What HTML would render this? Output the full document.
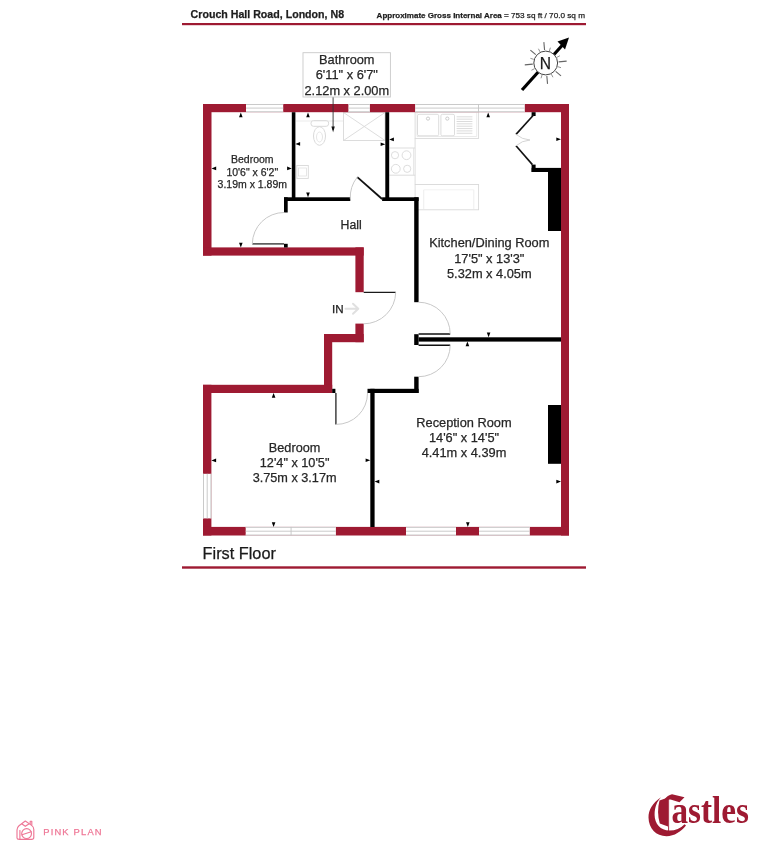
<!DOCTYPE html>
<html><head><meta charset="utf-8"><style>
html,body{margin:0;padding:0;background:#fff;width:768px;height:856px;overflow:hidden}
svg{display:block;font-family:"Liberation Sans",sans-serif;will-change:transform}
</style></head><body>
<svg width="768" height="856" viewBox="0 0 768 856">
<text x="190.6" y="18.3" font-size="10.6" text-anchor="start" font-weight="bold" fill="#1e1e1e" stroke="#1e1e1e" stroke-width="0.25" textLength="153.5" lengthAdjust="spacingAndGlyphs">Crouch Hall Road, London, N8</text>
<text x="376.6" y="18.2" font-size="8" text-anchor="start" font-weight="bold" fill="#1e1e1e" stroke="#1e1e1e" stroke-width="0.25" textLength="125.2" lengthAdjust="spacingAndGlyphs">Approximate Gross Internal Area</text>
<text x="503.9" y="18.2" font-size="8" text-anchor="start" font-weight="normal" fill="#1e1e1e" stroke="#1e1e1e" stroke-width="0.25" textLength="81.1" lengthAdjust="spacingAndGlyphs">= 753 sq ft / 70.0 sq m</text>
<rect x="182" y="23" width="404" height="2.2" fill="#9e1a32"/>
<rect x="311" y="120.5" width="17.6" height="5.8" rx="2.5" fill="none" stroke="#d9d9d9" stroke-width="1"/>
<ellipse cx="319.5" cy="136" rx="6" ry="9.3" fill="none" stroke="#d9d9d9" stroke-width="1"/>
<ellipse cx="319.5" cy="137" rx="3" ry="5" fill="none" stroke="#dedede" stroke-width="0.8"/>
<rect x="343.5" y="112.5" width="41.5" height="28.0" fill="none" stroke="#d9d9d9" stroke-width="0.9"/>
<line x1="343.5" y1="112.5" x2="385" y2="140.5" stroke="#d9d9d9" stroke-width="0.9"/>
<line x1="385" y1="112.5" x2="343.5" y2="140.5" stroke="#d9d9d9" stroke-width="0.9"/>
<line x1="296" y1="121" x2="343" y2="121" stroke="#e6e6e6" stroke-width="0.8"/>
<rect x="296.8" y="165.5" width="11.5" height="12.9" fill="none" stroke="#d9d9d9" stroke-width="0.9"/>
<rect x="298.5" y="168" width="8.0" height="8" fill="none" stroke="#dcdcdc" stroke-width="0.7"/>
<rect x="415.1" y="112.2" width="63.5" height="26.2" fill="none" stroke="#d9d9d9" stroke-width="0.9"/>
<line x1="417" y1="112.2" x2="417" y2="136.5" stroke="#e2e2e2" stroke-width="0.7"/>
<line x1="476.7" y1="112.2" x2="476.7" y2="136.5" stroke="#e2e2e2" stroke-width="0.7"/>
<line x1="417" y1="136.5" x2="476.7" y2="136.5" stroke="#e2e2e2" stroke-width="0.7"/>
<rect x="417.5" y="114.3" width="21.2" height="21.5" rx="1.5" fill="none" stroke="#d9d9d9" stroke-width="0.9"/>
<rect x="440.9" y="114.3" width="13.6" height="21.5" rx="1.5" fill="none" stroke="#d9d9d9" stroke-width="0.9"/>
<line x1="456.6" y1="116.8" x2="472.4" y2="116.8" stroke="#d2d2d2" stroke-width="0.8"/>
<line x1="456.6" y1="119.14999999999999" x2="472.4" y2="119.14999999999999" stroke="#d2d2d2" stroke-width="0.8"/>
<line x1="456.6" y1="121.5" x2="472.4" y2="121.5" stroke="#d2d2d2" stroke-width="0.8"/>
<line x1="456.6" y1="123.85" x2="472.4" y2="123.85" stroke="#d2d2d2" stroke-width="0.8"/>
<line x1="456.6" y1="126.2" x2="472.4" y2="126.2" stroke="#d2d2d2" stroke-width="0.8"/>
<line x1="456.6" y1="128.55" x2="472.4" y2="128.55" stroke="#d2d2d2" stroke-width="0.8"/>
<line x1="456.6" y1="130.9" x2="472.4" y2="130.9" stroke="#d2d2d2" stroke-width="0.8"/>
<line x1="456.6" y1="133.25" x2="472.4" y2="133.25" stroke="#d2d2d2" stroke-width="0.8"/>
<circle cx="428" cy="118.6" r="1.6" fill="none" stroke="#c0c0c0" stroke-width="0.8"/>
<circle cx="447.3" cy="118.6" r="1.6" fill="none" stroke="#c0c0c0" stroke-width="0.8"/>
<line x1="415.1" y1="138.4" x2="415.1" y2="184.5" stroke="#d9d9d9" stroke-width="0.9"/>
<line x1="389.3" y1="148" x2="415.1" y2="148" stroke="#d9d9d9" stroke-width="0.9"/>
<line x1="389.3" y1="175.2" x2="415.1" y2="175.2" stroke="#d9d9d9" stroke-width="0.9"/>
<line x1="413.5" y1="148" x2="413.5" y2="175.2" stroke="#e0e0e0" stroke-width="0.7"/>
<circle cx="395" cy="155.2" r="3.6" fill="none" stroke="#d9d9d9" stroke-width="0.9"/>
<circle cx="406.5" cy="155.2" r="4.4" fill="none" stroke="#d9d9d9" stroke-width="0.9"/>
<circle cx="395.8" cy="168.8" r="4.4" fill="none" stroke="#d9d9d9" stroke-width="0.9"/>
<circle cx="407.2" cy="168.8" r="3.6" fill="none" stroke="#d9d9d9" stroke-width="0.9"/>
<rect x="415.1" y="184.5" width="63.5" height="25.3" fill="none" stroke="#d9d9d9" stroke-width="0.9"/>
<line x1="423.7" y1="189.8" x2="423.7" y2="209.8" stroke="#e6e6e6" stroke-width="0.7"/>
<line x1="473.8" y1="189.8" x2="473.8" y2="209.8" stroke="#e6e6e6" stroke-width="0.7"/>
<line x1="423.7" y1="189.8" x2="473.8" y2="189.8" stroke="#ececec" stroke-width="0.7"/>
<rect x="203" y="104" width="366" height="8.2" fill="#9e1a32"/>
<rect x="561" y="104" width="8" height="431.5" fill="#9e1a32"/>
<rect x="203" y="104" width="8.5" height="151.6" fill="#9e1a32"/>
<rect x="203" y="247.4" width="160.7" height="8.2" fill="#9e1a32"/>
<rect x="355.4" y="247.4" width="8.3" height="44.8" fill="#9e1a32"/>
<rect x="355.4" y="323.6" width="8.3" height="18.6" fill="#9e1a32"/>
<rect x="324" y="334" width="39.7" height="8.2" fill="#9e1a32"/>
<rect x="324" y="334" width="8.2" height="59" fill="#9e1a32"/>
<rect x="203" y="384.8" width="129.2" height="8.2" fill="#9e1a32"/>
<rect x="203" y="384.8" width="8.4" height="150.7" fill="#9e1a32"/>
<rect x="203" y="526.9" width="366" height="8.6" fill="#9e1a32"/>
<rect x="246" y="104" width="37.2" height="8.2" fill="#fff"/>
<line x1="246" y1="104.5" x2="283.2" y2="104.5" stroke="#c4c4c4" stroke-width="0.9"/>
<line x1="246" y1="108.1" x2="283.2" y2="108.1" stroke="#c4c4c4" stroke-width="0.9"/>
<line x1="246" y1="111.7" x2="283.2" y2="111.7" stroke="#c4c4c4" stroke-width="0.9"/>
<rect x="348.4" y="104" width="21.5" height="8.2" fill="#fff"/>
<line x1="348.4" y1="104.5" x2="369.9" y2="104.5" stroke="#c4c4c4" stroke-width="0.9"/>
<line x1="348.4" y1="108.1" x2="369.9" y2="108.1" stroke="#c4c4c4" stroke-width="0.9"/>
<line x1="348.4" y1="111.7" x2="369.9" y2="111.7" stroke="#c4c4c4" stroke-width="0.9"/>
<rect x="415.1" y="104" width="109.7" height="8.2" fill="#fff"/>
<line x1="415.1" y1="104.5" x2="524.8" y2="104.5" stroke="#c4c4c4" stroke-width="0.9"/>
<line x1="415.1" y1="108.1" x2="524.8" y2="108.1" stroke="#c4c4c4" stroke-width="0.9"/>
<line x1="415.1" y1="111.7" x2="524.8" y2="111.7" stroke="#c4c4c4" stroke-width="0.9"/>
<line x1="478.5" y1="104" x2="478.5" y2="112.2" stroke="#c4c4c4" stroke-width="0.9"/>
<rect x="245.7" y="526.9" width="90.2" height="8.6" fill="#fff"/>
<line x1="245.7" y1="527.4" x2="335.9" y2="527.4" stroke="#c4c4c4" stroke-width="0.9"/>
<line x1="245.7" y1="531.2" x2="335.9" y2="531.2" stroke="#c4c4c4" stroke-width="0.9"/>
<line x1="245.7" y1="535.0" x2="335.9" y2="535.0" stroke="#c4c4c4" stroke-width="0.9"/>
<line x1="291.1" y1="526.9" x2="291.1" y2="535.5" stroke="#c4c4c4" stroke-width="0.9"/>
<rect x="406" y="526.9" width="50" height="8.6" fill="#fff"/>
<line x1="406" y1="527.4" x2="456" y2="527.4" stroke="#c4c4c4" stroke-width="0.9"/>
<line x1="406" y1="531.2" x2="456" y2="531.2" stroke="#c4c4c4" stroke-width="0.9"/>
<line x1="406" y1="535.0" x2="456" y2="535.0" stroke="#c4c4c4" stroke-width="0.9"/>
<rect x="479" y="526.9" width="50.8" height="8.6" fill="#fff"/>
<line x1="479" y1="527.4" x2="529.8" y2="527.4" stroke="#c4c4c4" stroke-width="0.9"/>
<line x1="479" y1="531.2" x2="529.8" y2="531.2" stroke="#c4c4c4" stroke-width="0.9"/>
<line x1="479" y1="535.0" x2="529.8" y2="535.0" stroke="#c4c4c4" stroke-width="0.9"/>
<rect x="203" y="473.8" width="8.4" height="44.6" fill="#fff"/>
<line x1="203.5" y1="473.8" x2="203.5" y2="518.4" stroke="#c4c4c4" stroke-width="0.9"/>
<line x1="207.2" y1="473.8" x2="207.2" y2="518.4" stroke="#c4c4c4" stroke-width="0.9"/>
<line x1="210.9" y1="473.8" x2="210.9" y2="518.4" stroke="#c4c4c4" stroke-width="0.9"/>
<rect x="291.8" y="112.2" width="3.6" height="88.8" fill="#000"/>
<rect x="385.3" y="112.2" width="3.9" height="88.8" fill="#000"/>
<rect x="284" y="197.3" width="66.3" height="3.7" fill="#000"/>
<rect x="284" y="197.3" width="3.7" height="15.2" fill="#000"/>
<rect x="382.1" y="197.3" width="36.5" height="3.7" fill="#000"/>
<rect x="414.2" y="197.3" width="4.4" height="104.9" fill="#000"/>
<rect x="414.2" y="334.2" width="4.4" height="10.8" fill="#000"/>
<rect x="418.6" y="337.3" width="142.4" height="4.3" fill="#000"/>
<rect x="414.2" y="376.7" width="4.4" height="16.3" fill="#000"/>
<rect x="367.5" y="388.8" width="51.1" height="4.2" fill="#000"/>
<rect x="370.3" y="388.8" width="4.3" height="138.2" fill="#000"/>
<rect x="332.2" y="388.8" width="3.2" height="4.2" fill="#000"/>
<rect x="284" y="243.8" width="3.7" height="3.7" fill="#000"/>
<rect x="548" y="167.9" width="13" height="63.1" fill="#000"/>
<rect x="531.6" y="167.9" width="16.4" height="4.1" fill="#000"/>
<rect x="531.6" y="164.6" width="4.0" height="7.4" fill="#000"/>
<rect x="531.6" y="112.2" width="4.0" height="3.8" fill="#000"/>
<rect x="548" y="405" width="13" height="58.8" fill="#000"/>
<line x1="252.3" y1="243.9" x2="284" y2="243.9" stroke="#2a2a2a" stroke-width="1.3"/>
<path d="M252.3 243.9 A31.8 31.8 0 0 1 284.3 212.5" fill="none" stroke="#c8c8c8" stroke-width="1"/>
<line x1="357.3" y1="177.1" x2="382.1" y2="199" stroke="#111" stroke-width="1.8"/>
<path d="M350.3 199 A32.5 32.5 0 0 1 357.3 177.1" fill="none" stroke="#c8c8c8" stroke-width="1"/>
<line x1="363.7" y1="292.4" x2="395.7" y2="292.4" stroke="#1a1a1a" stroke-width="1.4"/>
<path d="M395.7 292.4 A32 32 0 0 1 363.7 323.8" fill="none" stroke="#c8c8c8" stroke-width="1"/>
<line x1="418.6" y1="333.9" x2="450.2" y2="333.9" stroke="#111" stroke-width="1.5"/>
<line x1="418.6" y1="345.2" x2="450.2" y2="345.2" stroke="#111" stroke-width="1.5"/>
<path d="M418.6 302.2 A31.7 31.7 0 0 1 450.2 333.9" fill="none" stroke="#c8c8c8" stroke-width="1"/>
<path d="M450.2 345.2 A31.5 31.5 0 0 1 418.6 376.7" fill="none" stroke="#c8c8c8" stroke-width="1"/>
<line x1="335.9" y1="393" x2="335.9" y2="424.4" stroke="#333" stroke-width="1.4"/>
<path d="M335.9 424.4 A31.2 31.2 0 0 0 367.5 393" fill="none" stroke="#c8c8c8" stroke-width="1"/>
<line x1="534" y1="114.5" x2="516" y2="134.4" stroke="#111" stroke-width="1.6"/>
<line x1="516" y1="145.8" x2="532.4" y2="164.6" stroke="#111" stroke-width="1.6"/>
<path d="M516 134.4 Q522 139.5 530 140 Q522 140.5 516 145.8" fill="none" stroke="#cfcfcf" stroke-width="0.9"/>
<text x="337.8" y="313.2" font-size="11.6" text-anchor="middle" font-weight="normal" fill="#222" stroke="#222" stroke-width="0.25" >IN</text>
<path d="M345.5 308.8 H357.5 M353 303.8 L358.3 308.8 L353 313.8" fill="none" stroke="#e0e0e0" stroke-width="2" stroke-linecap="round" stroke-linejoin="round"/>
<polygon points="240.80,112.50 239.00,117.20 242.60,117.20" fill="#000"/>
<polygon points="211.50,168.40 216.20,166.60 216.20,170.20" fill="#000"/>
<polygon points="291.80,168.40 287.10,166.60 287.10,170.20" fill="#000"/>
<polygon points="240.80,247.40 239.00,242.70 242.60,242.70" fill="#000"/>
<polygon points="308.00,112.50 306.20,117.20 309.80,117.20" fill="#000"/>
<polygon points="295.40,143.90 300.10,142.10 300.10,145.70" fill="#000"/>
<polygon points="385.30,144.20 380.60,142.40 380.60,146.00" fill="#000"/>
<polygon points="308.00,197.30 306.20,192.60 309.80,192.60" fill="#000"/>
<polygon points="488.20,112.50 486.40,117.20 490.00,117.20" fill="#000"/>
<polygon points="389.20,139.40 393.90,137.60 393.90,141.20" fill="#000"/>
<polygon points="561.00,139.30 556.30,137.50 556.30,141.10" fill="#000"/>
<polygon points="488.60,337.30 486.80,332.60 490.40,332.60" fill="#000"/>
<polygon points="467.40,341.60 465.60,346.30 469.20,346.30" fill="#000"/>
<polygon points="374.60,481.60 379.30,479.80 379.30,483.40" fill="#000"/>
<polygon points="561.00,481.60 556.30,479.80 556.30,483.40" fill="#000"/>
<polygon points="467.80,526.90 466.00,522.20 469.60,522.20" fill="#000"/>
<polygon points="273.60,393.00 271.80,397.70 275.40,397.70" fill="#000"/>
<polygon points="211.40,460.40 216.10,458.60 216.10,462.20" fill="#000"/>
<polygon points="370.30,460.30 365.60,458.50 365.60,462.10" fill="#000"/>
<polygon points="273.60,526.90 271.80,522.20 275.40,522.20" fill="#000"/>
<line x1="333.1" y1="97" x2="333.1" y2="130" stroke="#333" stroke-width="0.9"/>
<polygon points="331.4,126.5 334.8,126.5 333.1,132.3" fill="#111"/>
<rect x="303" y="52.7" width="87.4" height="44.3" fill="#fff" stroke="#c9c9c9" stroke-width="0.9"/>
<text x="346.8" y="63.9" font-size="12.8" text-anchor="middle" font-weight="normal" fill="#262626" stroke="#262626" stroke-width="0.25" >Bathroom</text>
<text x="346.8" y="79.2" font-size="12.8" text-anchor="middle" font-weight="normal" fill="#262626" stroke="#262626" stroke-width="0.25" >6'11&quot; x 6'7&quot;</text>
<text x="346.8" y="94.5" font-size="12.8" text-anchor="middle" font-weight="normal" fill="#262626" stroke="#262626" stroke-width="0.25" >2.12m x 2.00m</text>
<text x="252.3" y="163.2" font-size="10.5" text-anchor="middle" font-weight="normal" fill="#262626" stroke="#262626" stroke-width="0.25" >Bedroom</text>
<text x="252.3" y="176" font-size="10.5" text-anchor="middle" font-weight="normal" fill="#262626" stroke="#262626" stroke-width="0.25" >10'6&quot; x 6'2&quot;</text>
<text x="252.3" y="188.1" font-size="10.5" text-anchor="middle" font-weight="normal" fill="#262626" stroke="#262626" stroke-width="0.25" >3.19m x 1.89m</text>
<text x="351.1" y="228.9" font-size="12.3" text-anchor="middle" font-weight="normal" fill="#262626" stroke="#262626" stroke-width="0.25" >Hall</text>
<text x="489.3" y="247.3" font-size="12.8" text-anchor="middle" font-weight="normal" fill="#262626" stroke="#262626" stroke-width="0.25" >Kitchen/Dining Room</text>
<text x="489.3" y="262.8" font-size="12.8" text-anchor="middle" font-weight="normal" fill="#262626" stroke="#262626" stroke-width="0.25" >17'5&quot; x 13'3&quot;</text>
<text x="489.3" y="277.8" font-size="12.8" text-anchor="middle" font-weight="normal" fill="#262626" stroke="#262626" stroke-width="0.25" >5.32m x 4.05m</text>
<text x="294.6" y="451.8" font-size="12.7" text-anchor="middle" font-weight="normal" fill="#262626" stroke="#262626" stroke-width="0.25" >Bedroom</text>
<text x="294.6" y="467" font-size="12.7" text-anchor="middle" font-weight="normal" fill="#262626" stroke="#262626" stroke-width="0.25" >12'4&quot; x 10'5&quot;</text>
<text x="294.6" y="482.3" font-size="12.7" text-anchor="middle" font-weight="normal" fill="#262626" stroke="#262626" stroke-width="0.25" >3.75m x 3.17m</text>
<text x="464" y="426.6" font-size="12.8" text-anchor="middle" font-weight="normal" fill="#262626" stroke="#262626" stroke-width="0.25" >Reception Room</text>
<text x="464" y="441.8" font-size="12.8" text-anchor="middle" font-weight="normal" fill="#262626" stroke="#262626" stroke-width="0.25" >14'6&quot; x 14'5&quot;</text>
<text x="464" y="457" font-size="12.8" text-anchor="middle" font-weight="normal" fill="#262626" stroke="#262626" stroke-width="0.25" >4.41m x 4.39m</text>
<text x="202.6" y="559.4" font-size="16.3" text-anchor="start" font-weight="normal" fill="#1a1a1a" stroke="#1a1a1a" stroke-width="0.25" >First Floor</text>
<rect x="182" y="566.3" width="404" height="2.4" fill="#9e1a32"/>
<line x1="544.57" y1="50.05" x2="543.87" y2="42.08" stroke="#666" stroke-width="1.1"/>
<line x1="558.65" y1="61.87" x2="566.62" y2="61.17" stroke="#666" stroke-width="1.1"/>
<line x1="532.75" y1="64.13" x2="524.78" y2="64.83" stroke="#666" stroke-width="1.1"/>
<line x1="546.83" y1="75.95" x2="547.53" y2="83.92" stroke="#666" stroke-width="1.1"/>
<line x1="535.74" y1="54.64" x2="530.38" y2="50.14" stroke="#666" stroke-width="1.1"/>
<line x1="555.66" y1="71.36" x2="561.02" y2="75.86" stroke="#666" stroke-width="1.1"/>
<line x1="540.03" y1="51.86" x2="538.44" y2="48.74" stroke="#888" stroke-width="0.9"/>
<line x1="533.75" y1="59.35" x2="530.40" y2="58.32" stroke="#888" stroke-width="0.9"/>
<line x1="534.56" y1="68.67" x2="531.44" y2="70.26" stroke="#888" stroke-width="0.9"/>
<line x1="542.05" y1="74.95" x2="541.02" y2="78.30" stroke="#888" stroke-width="0.9"/>
<line x1="551.37" y1="74.14" x2="552.96" y2="77.26" stroke="#888" stroke-width="0.9"/>
<line x1="557.65" y1="66.65" x2="561.00" y2="67.68" stroke="#888" stroke-width="0.9"/>
<line x1="556.84" y1="57.33" x2="559.96" y2="55.74" stroke="#888" stroke-width="0.9"/>
<line x1="549.35" y1="51.05" x2="550.38" y2="47.70" stroke="#888" stroke-width="0.9"/>
<line x1="522" y1="90" x2="562.5" y2="45" stroke="#000" stroke-width="3.2"/>
<polygon points="569,37.5 557.5,41.5 565,49.5" fill="#000"/>
<circle cx="545.7" cy="63" r="11.9" fill="#fff" stroke="#444" stroke-width="1"/>
<text x="545.5" y="69.3" font-size="15.6" text-anchor="middle" font-weight="normal" fill="#1a1a1a" stroke="#1a1a1a" stroke-width="0.25" >N</text>
<g fill="none" stroke="#ee7796" stroke-width="1.15" stroke-linejoin="round" stroke-linecap="round"><path d="M17 838 V830 Q17 827.5 19 825.8 L25.3 821 L31.6 825.4 Q33.8 827 33.8 829.5 V837.2 Q33.8 839.3 31.6 839.3 H19.2 Q17 839.3 17 838 Z"/><path d="M19.9 830.5 V839"/><circle cx="26.6" cy="833.6" r="4.9"/><path d="M22 834.8 L31.2 831.8"/><path d="M30.2 823.6 V821.2 H31.8 V825"/><path d="M22 824 L25.3 826.3 L28.8 824"/></g>
<text x="43.2" y="834.7" font-size="9.4" text-anchor="start" font-weight="normal" fill="#ee7796" stroke="#ee7796" stroke-width="0.25" textLength="58.4" lengthAdjust="spacing">PINK PLAN</text>
<g fill="#9e1a32"><path d="M661 797.3 C652.5 803 648.4 810 648.5 817.5 C648.7 828.5 656 836.2 666.5 836.2 C674.5 836.2 681 831.5 686 825.5 L684.6 824.3 C680.5 828.3 675.5 830.6 669.5 830.6 C660.5 830.6 654.6 823.5 654.6 815 C654.6 807 657 801.5 661 797.3 Z"/><path d="M659.5 800.5 L668 797.5 L668 826.5 L659.8 823.5 Q656.5 812 659.5 800.5 Z"/><path d="M664.5 799.5 Q667.5 795.2 672 794.2 L684.5 797.3 L679.5 802.2 L670.5 799.5 Q667.5 799.2 664.5 801 Z"/></g>
<line x1="668.6" y1="799" x2="668.6" y2="831.5" stroke="#9e1a32" stroke-width="0.9"/>
<text x="671.5" y="823" font-family="Liberation Serif" font-weight="bold" font-size="37" fill="#9e1a32" textLength="77.5" lengthAdjust="spacingAndGlyphs">astles</text>
</svg>
</body></html>
